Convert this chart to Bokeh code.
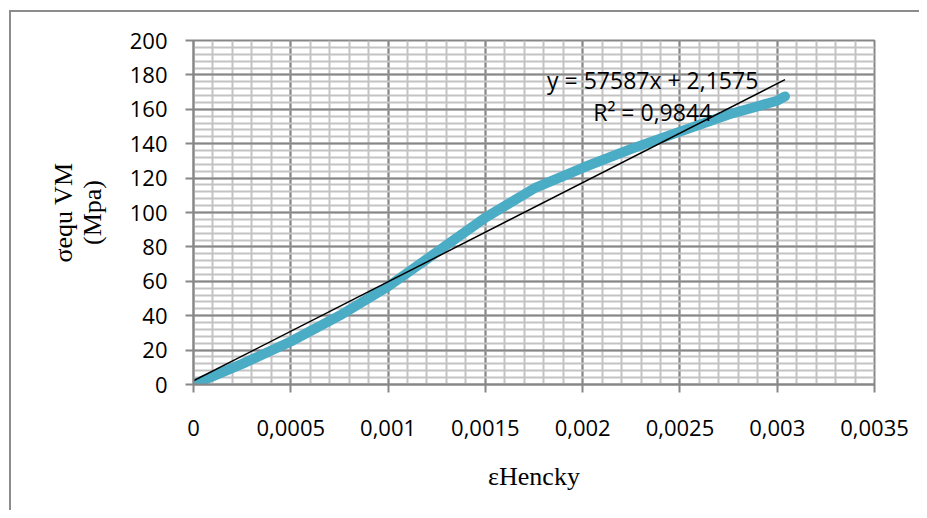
from bokeh.plotting import figure
from bokeh.models import FixedTicker, Label, Range1d
from bokeh.embed import file_html
from bokeh.resources import INLINE

# ---- data ----
strain = [0, 0.00025, 0.0005, 0.00075, 0.001, 0.00125, 0.0015, 0.00175,
          0.002, 0.00225, 0.0025, 0.00275, 0.003, 0.00304]
stress = [0, 12, 25, 40, 57, 77, 97, 114, 126, 137, 147, 157, 165, 167.5]

trend_slope = 57587
trend_intercept = 2.1575
trend_text = "y = 57587x + 2,1575"
r2_text = "R² = 0,9844"

x_ticks = [0, 0.0005, 0.001, 0.0015, 0.002, 0.0025, 0.003, 0.0035]
x_tick_labels = ["0", "0,0005", "0,001", "0,0015", "0,002", "0,0025", "0,003", "0,0035"]
x_minor = [i * 0.0001 for i in range(36)]
y_ticks = [0, 20, 40, 60, 80, 100, 120, 140, 160, 180, 200]
y_minor = list(range(0, 201, 4))

x_title = "εHencky"
y_title = "σequ VM\n(Mpa)"

# ---- figure ----
p = figure(width=919, height=510, output_backend="svg", toolbar_location=None,
           x_range=Range1d(0, 0.0035), y_range=Range1d(0, 200))
p.min_border_left = 193
p.min_border_top = 40
p.min_border_right = 45
p.min_border_bottom = 126
p.outline_line_color = "#878787"
p.outline_line_width = 2
p.background_fill_color = "white"
p.border_fill_color = None
# chart-area border: only its left and top edges fall inside the window
p.styles = {"background-color": "white",
            "box-shadow": "inset 9px 10px 0 0 white, inset 11px 12px 0 0 #8c8c8c"}

# grids
p.xgrid.ticker = FixedTicker(ticks=x_ticks, minor_ticks=x_minor)
p.ygrid.ticker = FixedTicker(ticks=y_ticks, minor_ticks=y_minor)
for g in (p.xgrid, p.ygrid):
    g.grid_line_color = "#878787"
    g.grid_line_width = 2
    g.minor_grid_line_color = "#c3c3c3"
    g.minor_grid_line_width = 2

tick_font = "Open Sans"
serif_font = "Liberation Serif"

# axes
xa = p.xaxis[0]
xa.ticker = FixedTicker(ticks=x_ticks)
xa.major_label_overrides = {t: l for t, l in zip(x_ticks, x_tick_labels)}
xa.axis_label = x_title
ya = p.yaxis[0]
ya.ticker = FixedTicker(ticks=y_ticks)
ya.axis_label = y_title

for ax in (xa, ya):
    ax.axis_line_color = "#878787"
    ax.axis_line_width = 2
    ax.major_tick_line_color = "#878787"
    ax.major_tick_line_width = 2
    ax.major_tick_out = 8
    ax.major_tick_in = 0
    ax.minor_tick_line_color = None
    ax.major_label_text_font = tick_font
    ax.major_label_text_font_size = "22px"
    ax.major_label_text_color = "black"
    ax.axis_label_text_font = serif_font
    ax.axis_label_text_font_size = "26px"
    ax.axis_label_text_font_style = "normal"
    ax.axis_label_text_color = "black"
    ax.axis_label_text_line_height = 1.0

xa.major_label_standoff = 27
xa.axis_label_standoff = 23
ya.major_label_standoff = 18
ya.axis_label_standoff = 20

# data curve
p.line(strain, stress, line_color="#4bacc6", line_width=10, line_cap="round", line_join="round")

# linear trendline over the data range
tx = [strain[0], strain[-1]]
ty = [trend_slope * v + trend_intercept for v in tx]
p.line(tx, ty, line_color="black", line_width=1.5)

# trendline labels
for txt, yy in ((trend_text, 177.2), (r2_text, 158.3)):
    p.add_layout(Label(x=0.00236, y=yy, text=txt, text_align="center",
                       text_baseline="middle", text_font=tick_font,
                       text_font_size="23px", text_color="black"))

open("out.html", "w").write(file_html(p, INLINE))
